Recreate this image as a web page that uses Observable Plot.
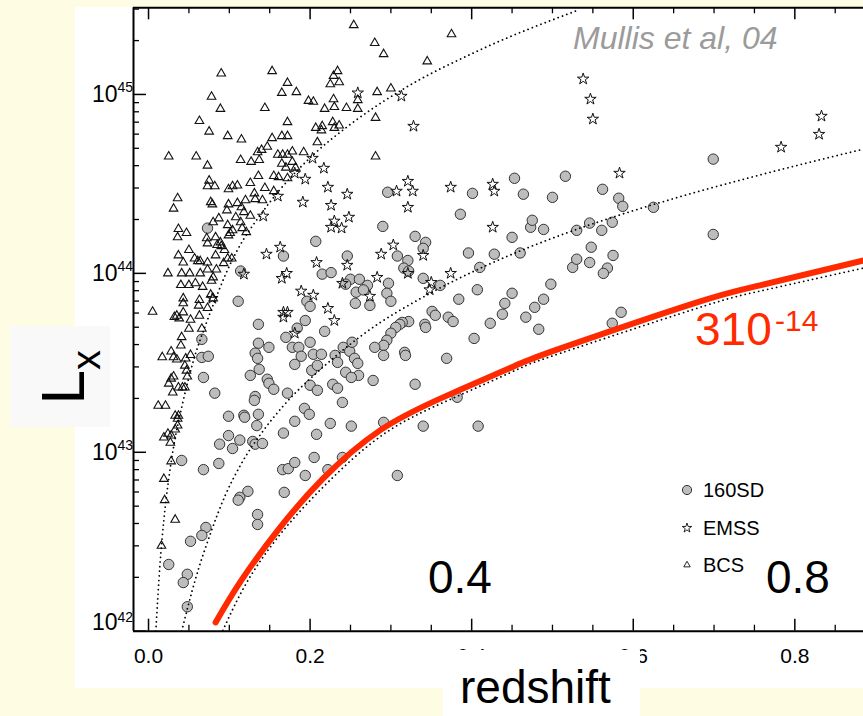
<!DOCTYPE html>
<html><head><meta charset="utf-8">
<script src="https://cdn.jsdelivr.net/npm/d3@7"></script>
<script src="https://cdn.jsdelivr.net/npm/@observablehq/plot@0.6"></script>
<style>
html,body{margin:0;padding:0;}
body{width:863px;height:716px;background:#fffce4;position:relative;overflow:hidden;font-family:"Liberation Sans",Arial,sans-serif;}
#panel{position:absolute;left:75px;top:7px;width:788px;height:681px;background:#fff;}
#chart{position:absolute;left:0;top:0;}
.abs{position:absolute;white-space:nowrap;line-height:1;}
#lbox{position:absolute;left:10px;top:326px;width:100px;height:101px;background:#f9f9f9;}
#xbox{position:absolute;left:443px;top:650px;width:197px;height:66px;background:#fff;}
</style></head><body>
<div id="panel"></div>
<div id="chart"></div>
<div id="lbox"></div>
<div id="xbox"><div class="abs" style="left:17px;top:14px;font-size:46px;">redshift</div></div>
<div class="abs" style="left:573px;top:22px;font-size:32px;font-style:italic;color:#9b9b9b;">Mullis et al, 04</div>
<div class="abs" style="left:428px;top:554px;font-size:46px;">0.4</div>
<div class="abs" style="left:766px;top:554px;font-size:46px;">0.8</div>
<div class="abs" style="left:695px;top:306px;font-size:46px;color:#ff2a00;">310</div>
<div class="abs" style="left:775px;top:306px;font-size:30px;color:#ff2a00;">-14</div>
<div id="legend"></div>
<script>
// ---- axis ticks ----
const xMajor = [0, 0.2, 0.4, 0.6, 0.8];
const xMinor = [0.05,0.1,0.15,0.25,0.3,0.35,0.45,0.5,0.55,0.65,0.7,0.75,0.85];
const yMajor = [1e42, 1e43, 1e44, 1e45];
const yMinor = [2e42,3e42,4e42,5e42,6e42,7e42,8e42,9e42,2e43,3e43,4e43,5e43,6e43,7e43,8e43,9e43,
                2e44,3e44,4e44,5e44,6e44,7e44,8e44,9e44,2e45,3e45];

// ---- BCS (triangles) ----
const bcsZ = [0.090,0.153,0.172,0.165,0.183,0.198,0.204,0.078,0.089,0.144,0.063,0.172,0.075,0.098,0.115,0.153,0.165,0.172,0.207,0.209,
0.025,0.059,0.073,0.114,0.127,0.137,0.135,0.140,0.147,0.160,0.166,0.172,0.178,0.192,0.165,0.178,0.170,0.136,0.155,0.161,
0.172,0.075,0.082,0.073,0.099,0.104,0.110,0.126,0.131,0.144,0.132,0.141,0.155,0.036,0.031,0.077,0.079,0.099,0.110,0.120,
0.115,0.097,0.118,0.108,0.114,0.126,0.087,0.080,0.098,0.104,0.116,0.121,0.037,0.047,0.036,0.072,0.083,0.099,0.254,0.280,
0.291,0.345,0.375,0.229,0.234,0.225,0.236,0.218,0.229,0.230,0.245,0.259,0.259,0.283,0.300,0.281,0.215,0.214,0.228,0.230,
0.236,0.182,0.281,0.073,0.089,0.085,0.101,0.090,0.094,0.098,0.103,0.093,0.050,0.037,0.043,0.057,0.061,0.064,0.073,0.083,
0.024,0.041,0.051,0.064,0.073,0.084,0.080,0.078,0.040,0.050,0.058,0.067,0.077,0.080,0.043,0.043,0.063,0.062,0.073,0.005,
0.035,0.038,0.032,0.043,0.052,0.063,0.050,0.066,0.041,0.040,0.028,0.031,0.035,0.046,0.052,0.017,0.045,0.047,0.048,0.031,
0.028,0.025,0.042,0.037,0.045,0.030,0.012,0.021,0.033,0.037,0.036,0.036,0.033,0.024,0.019,0.028,0.027,0.028,0.019,0.020,
0.033,0.016];
const bcsL = [1.31e45,1.35e45,1.16e45,1.02e45,1.03e45,9.2e44,9.1e44,9.7e44,8.3e44,8.4e44,7.1e44,7.0e44,6.2e44,5.85e44,5.6e44,5.7e44,5.85e44,5.85e44,6.5e44,5.4e44,
4.5e44,4.5e44,4.0e44,4.3e44,4.2e44,4.3e44,4.75e44,4.9e44,5.1e44,4.6e44,4.6e44,4.6e44,4.8e44,4.75e44,4.1e44,4.2e44,3.9e44,3.5e44,3.5e44,3.45e44,
3.4e44,3.3e44,3.07e44,3.07e44,2.95e44,3.07e44,3.1e44,3.2e44,2.8e44,3.0e44,2.6e44,2.56e44,2.88e44,2.63e44,2.3e44,2.5e44,2.43e44,2.43e44,2.47e44,2.56e44,
2.34e44,2.25e44,2.2e44,2.06e44,1.93e44,2.1e44,2.03e44,1.93e44,1.86e44,1.74e44,1.79e44,1.70e44,1.77e44,1.68e44,1.59e44,1.57e44,1.59e44,1.63e44,2.44e45,1.94e45,
1.68e45,1.53e45,2.17e45,1.27e45,1.35e45,1.14e45,1.17e45,8.3e44,9.4e44,8.5e44,8.4e44,9.3e44,8.3e44,1.03e45,1.08e45,7.4e44,6.65e44,6.3e44,7.0e44,6.5e44,
6.7e44,3.9e44,4.5e44,1.47e44,1.49e44,1.44e44,1.68e44,1.42e44,1.35e44,1.21e44,1.21e44,1.14e44,1.35e44,1.26e44,1.15e44,1.21e44,1.17e44,1.17e44,1.15e44,1.26e44,
1.0e44,1.0e44,1.0e44,1.0e44,1.05e44,1.05e44,9.5e43,9.1e43,8.6e43,8.6e43,8.8e43,8.4e43,7.6e43,7.25e43,7.25e43,6.8e43,7.1e43,6.6e43,6.4e43,6.1e43,
5.8e43,5.6e43,5.7e43,6.05e43,5.5e43,5.8e43,4.9e43,4.9e43,4.4e43,3.95e43,3.66e43,3.4e43,3.3e43,3.34e43,3.5e43,3.4e43,3.05e43,2.86e43,2.65e43,2.65e43,
2.58e43,2.42e43,2.3e43,2.3e43,2.3e43,2.16e43,1.82e43,1.82e43,1.6e43,1.6e43,1.54e43,1.41e43,1.34e43,1.27e43,1.21e43,1.24e43,1.13e43,8.9e42,7.1e42,5.4e42,
4.2e42,3.0e42];

// ---- 160SD (grey circles) ----
const sdZ = [0.073,0.207,0.167,0.114,0.111,0.196,0.200,0.136,0.194,0.184,0.170,0.066,0.136,0.132,0.135,0.149,0.178,0.186,0.189,0.200,
0.204,0.066,0.074,0.137,0.126,0.147,0.149,0.181,0.202,0.209,0.068,0.082,0.132,0.131,0.155,0.172,0.200,0.209,0.193,0.199,
0.099,0.118,0.119,0.136,0.134,0.181,0.099,0.113,0.088,0.104,0.129,0.132,0.141,0.167,0.208,0.041,0.068,0.087,0.166,0.173,
0.181,0.194,0.205,0.168,0.123,0.113,0.111,0.135,0.135,0.071,0.066,0.052,0.025,0.048,0.043,0.048,0.246,0.330,0.343,0.340,
0.215,0.226,0.308,0.321,0.316,0.322,0.297,0.295,0.300,0.250,0.261,0.271,0.257,0.266,0.256,0.274,0.244,0.340,0.361,0.396,
0.428,0.460,0.410,0.407,0.384,0.351,0.355,0.371,0.377,0.342,0.343,0.322,0.314,0.311,0.306,0.300,0.295,0.291,0.218,0.214,
0.231,0.241,0.249,0.252,0.280,0.291,0.255,0.259,0.260,0.234,0.244,0.251,0.228,0.234,0.240,0.278,0.317,0.318,0.330,0.369,
0.403,0.423,0.438,0.441,0.450,0.467,0.478,0.483,0.489,0.498,0.525,0.530,0.530,0.225,0.251,0.291,0.340,0.408,0.382,0.240,
0.222,0.308,0.296,0.401,0.386,0.453,0.464,0.500,0.516,0.290,0.450,0.473,0.475,0.489,0.699,0.562,0.582,0.587,0.625,0.546,
0.561,0.574,0.548,0.699,0.575,0.546,0.568,0.563,0.585,0.574];
const sdL = [1.79e44,1.51e44,1.25e44,1.03e44,6.98e43,6.98e43,6.54e43,5.19e43,5.45e43,4.94e43,4.39e43,4.28e43,4.07e43,3.58e43,3.35e43,3.86e43,3.86e43,3.86e43,3.44e43,4.12e43,
3.53e43,3.39e43,3.44e43,2.91e43,2.69e43,2.56e43,2.43e43,3.10e43,2.87e43,3.06e43,2.62e43,2.14e43,2.05e43,1.95e43,2.25e43,2.14e43,2.37e43,2.22e43,1.76e43,1.63e43,
1.59e43,1.61e43,1.57e43,1.63e43,1.41e43,1.49e43,1.24e43,1.17e43,1.11e43,1.05e43,1.15e43,1.11e43,1.12e43,1.28e43,1.26e43,9.0e42,8.0e42,8.66e42,8.0e42,8.1e42,
8.77e42,7.42e42,9.36e42,5.97e42,6.05e42,5.60e42,5.4e42,4.49e42,3.95e42,3.80e42,3.43e42,3.18e42,2.36e42,2.08e42,1.87e42,1.37e42,1.25e44,1.61e44,1.49e44,1.38e44,
9.9e43,1.01e44,1.25e44,1.18e44,1.07e44,1.03e44,8.8e43,7.74e43,6.98e43,9.27e43,9.27e43,8.57e43,7.85e43,8.08e43,6.80e43,6.62e43,8.7e43,9.38e43,8.57e43,1.30e44,
1.28e44,1.30e44,1.08e44,8.1e43,7.17e43,6.13e43,5.83e43,5.69e43,5.38e43,5.19e43,4.99e43,5.38e43,5.32e43,5.19e43,4.99e43,4.63e43,4.23e43,3.96e43,4.74e43,3.53e43,
3.48e43,3.86e43,3.67e43,4.12e43,3.86e43,3.48e43,3.35e43,3.14e43,2.69e43,3.18e43,2.80e43,2.62e43,2.40e43,2.28e43,1.90e43,2.52e43,3.62e43,3.48e43,2.40e43,3.35e43,
4.33e43,5.26e43,5.91e43,6.80e43,7.74e43,5.69e43,6.46e43,4.87e43,7.17e43,8.7e43,1.08e44,1.20e44,1.74e44,1.45e43,1.40e43,1.47e43,1.40e43,1.40e43,2.03e43,9.36e42,
8.0e42,7.42e42,2.84e44,2.80e44,2.14e44,3.40e44,2.77e44,2.66e44,3.49e44,1.83e44,1.59e44,1.81e44,1.98e44,1.76e44,4.35e44,2.95e44,2.63e44,2.37e44,2.34e44,1.91e44,
1.74e44,1.93e44,1.40e44,1.65e44,1.26e44,1.15e44,1.07e44,1.00e44,6.06e43,5.26e43];

// ---- EMSS (stars) ----
const emssZ = [0.259,0.313,0.328,0.203,0.217,0.194,0.181,0.222,0.246,0.191,0.226,0.248,0.230,0.226,0.239,0.307,0.321,0.327,0.321,0.374,
0.426,0.428,0.426,0.303,0.538,0.547,0.550,0.583,0.783,0.833,0.830,0.160,0.142,0.163,0.146,0.208,0.171,0.165,0.189,0.204,
0.167,0.172,0.167,0.181,0.118,0.079,0.288,0.246,0.340,0.321,0.283,0.240,0.274,0.222,0.230,0.374,0.350,0.348];
const emssL = [1.02e45,9.78e44,6.64e44,4.40e44,3.87e44,3.36e44,3.63e44,3.03e44,2.77e44,2.50e44,2.40e44,2.06e44,1.96e44,1.81e44,1.79e44,2.88e44,3.27e44,2.88e44,2.34e44,3.03e44,
3.15e44,2.88e44,1.81e44,1.44e44,1.22e45,9.41e44,7.28e44,3.63e44,5.07e44,7.56e44,5.99e44,2.70e44,2.09e44,1.40e44,1.28e44,1.15e44,1.0e44,9.38e43,7.96e43,7.55e43,
6.06e43,6.06e43,5.69e43,4.63e43,9.9e43,7.25e43,1.28e44,1.11e44,1.26e44,1.0e44,9.5e43,8.8e43,7.45e43,6.37e43,5.45e43,1.0e44,8.9e43,8.1e43];

// ---- flux-limit curves ----
const limAZ = [0.009,0.014,0.019,0.025,0.031,0.042,0.056,0.071,0.083,0.095,0.110,0.139,0.163,0.204,0.246,0.312,0.411,0.531];
const limAL = [1.0e42,2.3e42,4.2e42,7.1e42,1.07e43,1.86e43,3.3e43,5.2e43,7.2e43,9.8e43,1.35e44,2.14e44,2.95e44,4.6e44,6.6e44,1.05e45,1.78e45,2.95e45];
const limBZ = [0.041,0.058,0.077,0.095,0.114,0.142,0.167,0.217,0.266,0.349,0.411,0.452,0.514,0.593,0.675,0.757,0.881];
const limBL = [1.0e42,1.95e42,3.55e42,5.75e42,8.5e42,1.32e43,1.82e43,3.02e43,4.57e43,7.76e43,1.07e44,1.29e44,1.66e44,2.19e44,2.82e44,3.55e44,4.9e44];
const limCZ = [0.092,0.123,0.167,0.223,0.293,0.374,0.454,0.510,0.675,0.757,0.885];
const limCL = [1.01e42,1.92e42,3.66e42,6.86e42,1.28e43,1.98e43,2.87e43,3.58e43,6.30e43,7.96e43,1.07e44];
const redZ = [0.083,0.114,0.160,0.215,0.287,0.370,0.452,0.510,0.675,0.757,0.885];
const redL = [1.12e42,1.90e42,3.66e42,7.05e42,1.33e43,2.08e43,3.02e43,3.81e43,6.80e43,8.57e43,1.18e44];

const legendItems = ["160SD", "EMSS", "BCS"];

// ---- layout ----
const W = 863, H = 716, mL = 133, mR = 0, mT = 7.3, mB = 85.3;
const FH = H - mT - mB, FW = W - mL - mR;
const xDomain = [-0.0186, 0.885];
const yDomain = [1e42, 3.05e45];
const dotted = {stroke: "black", strokeWidth: 1.8, strokeDasharray: "0.01 4.6", strokeLinecap: "round", curve: "monotone-x", clip: true};

const chart = Plot.plot({
  width: W, height: H,
  marginLeft: mL, marginRight: mR, marginTop: mT, marginBottom: mB,
  style: {background: "transparent", fontFamily: "'Liberation Sans', Arial, sans-serif", color: "black"},
  x: {domain: xDomain, axis: null},
  y: {type: "log", domain: yDomain, axis: null},
  marks: [
    Plot.dot(sdZ, {x: sdZ, y: sdL, r: 5.2, fill: "#bdbdbd", stroke: "#333", strokeWidth: 1}),
    Plot.dot(emssZ, {x: emssZ, y: emssL, symbol: "star", r: 3.6, fill: "none", stroke: "#111", strokeWidth: 1}),
    Plot.dot(bcsZ, {x: bcsZ, y: bcsL, symbol: "triangle", r: 3.2, fill: "none", stroke: "#111", strokeWidth: 1.1}),
    Plot.line(limAZ, {x: limAZ, y: limAL, ...dotted}),
    Plot.line(limBZ, {x: limBZ, y: limBL, ...dotted}),
    Plot.line(limCZ, {x: limCZ, y: limCL, ...dotted, curve: "natural"}),
    Plot.line(redZ, {x: redZ, y: redL, stroke: "#ff2a00", strokeWidth: 6, curve: "natural", clip: true}),
    // frame
    Plot.ruleY([yDomain[0]], {stroke: "black", strokeWidth: 2}),
    Plot.ruleY([yDomain[1]], {stroke: "black", strokeWidth: 2}),
    Plot.ruleX([xDomain[0]], {stroke: "black", strokeWidth: 2}),
    // inward ticks
    Plot.tickX(xMajor, {x: d => d, insetTop: FH - 12, stroke: "black", strokeWidth: 1.5}),
    Plot.tickX(xMinor, {x: d => d, insetTop: FH - 6, stroke: "black", strokeWidth: 1.3}),
    Plot.tickX(xMajor, {x: d => d, insetBottom: FH - 12, stroke: "black", strokeWidth: 1.5}),
    Plot.tickX(xMinor, {x: d => d, insetBottom: FH - 6, stroke: "black", strokeWidth: 1.3}),
    Plot.tickY(yMajor, {y: d => d, insetRight: FW - 13, stroke: "black", strokeWidth: 1.5}),
    Plot.tickY(yMinor, {y: d => d, insetRight: FW - 6, stroke: "black", strokeWidth: 1.3}),
    // tick labels
    Plot.text(xMajor, {x: d => d, frameAnchor: "bottom", text: d => d.toFixed(1), dy: 25, lineAnchor: "middle", fontSize: 21, fill: "black"}),
    Plot.text(yMajor.slice(1), {y: d => d, frameAnchor: "left", text: () => "10", textAnchor: "end", dx: -16, lineAnchor: "middle", fontSize: 23, fill: "black"}),
    Plot.text(yMajor.slice(1), {y: d => d, frameAnchor: "left", text: d => String(Math.round(Math.log10(d))), textAnchor: "start", dx: -16, dy: -2, lineAnchor: "bottom", fontSize: 14, fill: "black"}),
    Plot.text(yMajor.slice(0, 1), {y: d => d, frameAnchor: "left", text: () => "10", textAnchor: "end", dx: -16, dy: -8.5, lineAnchor: "middle", fontSize: 23, fill: "black"}),
    Plot.text(yMajor.slice(0, 1), {y: d => d, frameAnchor: "left", text: d => String(Math.round(Math.log10(d))), textAnchor: "start", dx: -16, dy: -9, lineAnchor: "bottom", fontSize: 14, fill: "black"})
  ]
});
document.getElementById("chart").appendChild(chart);

// ---- rotated y label L_x ----
const lsvg = d3.select("#lbox").append("svg").attr("width", 100).attr("height", 101)
  .style("position", "absolute").style("left", "0px").style("top", "0px");
const lt = lsvg.append("text")
  .attr("transform", "translate(74,78.5) rotate(-90)")
  .attr("font-family", "'Liberation Sans', Arial, sans-serif")
  .attr("font-size", 62).attr("fill", "black");
lt.append("tspan").text("L");
lt.append("tspan").attr("font-size", 40).attr("dy", 16).text("x");

// ---- legend ----
const leg = d3.select("#legend").style("position", "absolute").style("left", "0px").style("top", "0px");
const legTop = [480, 518, 555];
const symbolPaths = [null, d3.symbol(d3.symbolStar, 28)(), d3.symbol(d3.symbolTriangle, 18)()];
legendItems.forEach((name, i) => {
  const row = leg.append("div").attr("class", "abs").style("left", "679px").style("top", legTop[i] + "px").style("height", "20px");
  const s = row.append("svg").attr("width", 16).attr("height", 20).style("position", "absolute").style("left", "0px").style("top", "0px");
  if (i === 0) s.append("circle").attr("cx", 8).attr("cy", 10).attr("r", 4.6).attr("fill", "#bdbdbd").attr("stroke", "#333");
  else s.append("path").attr("transform", "translate(8,10)").attr("d", symbolPaths[i]).attr("fill", "none").attr("stroke", "#111").attr("stroke-width", 0.9);
  row.append("div").attr("class", "abs").style("left", "24px").style("top", "0px").style("font-size", "20px").text(name);
});
</script>
</body></html>
